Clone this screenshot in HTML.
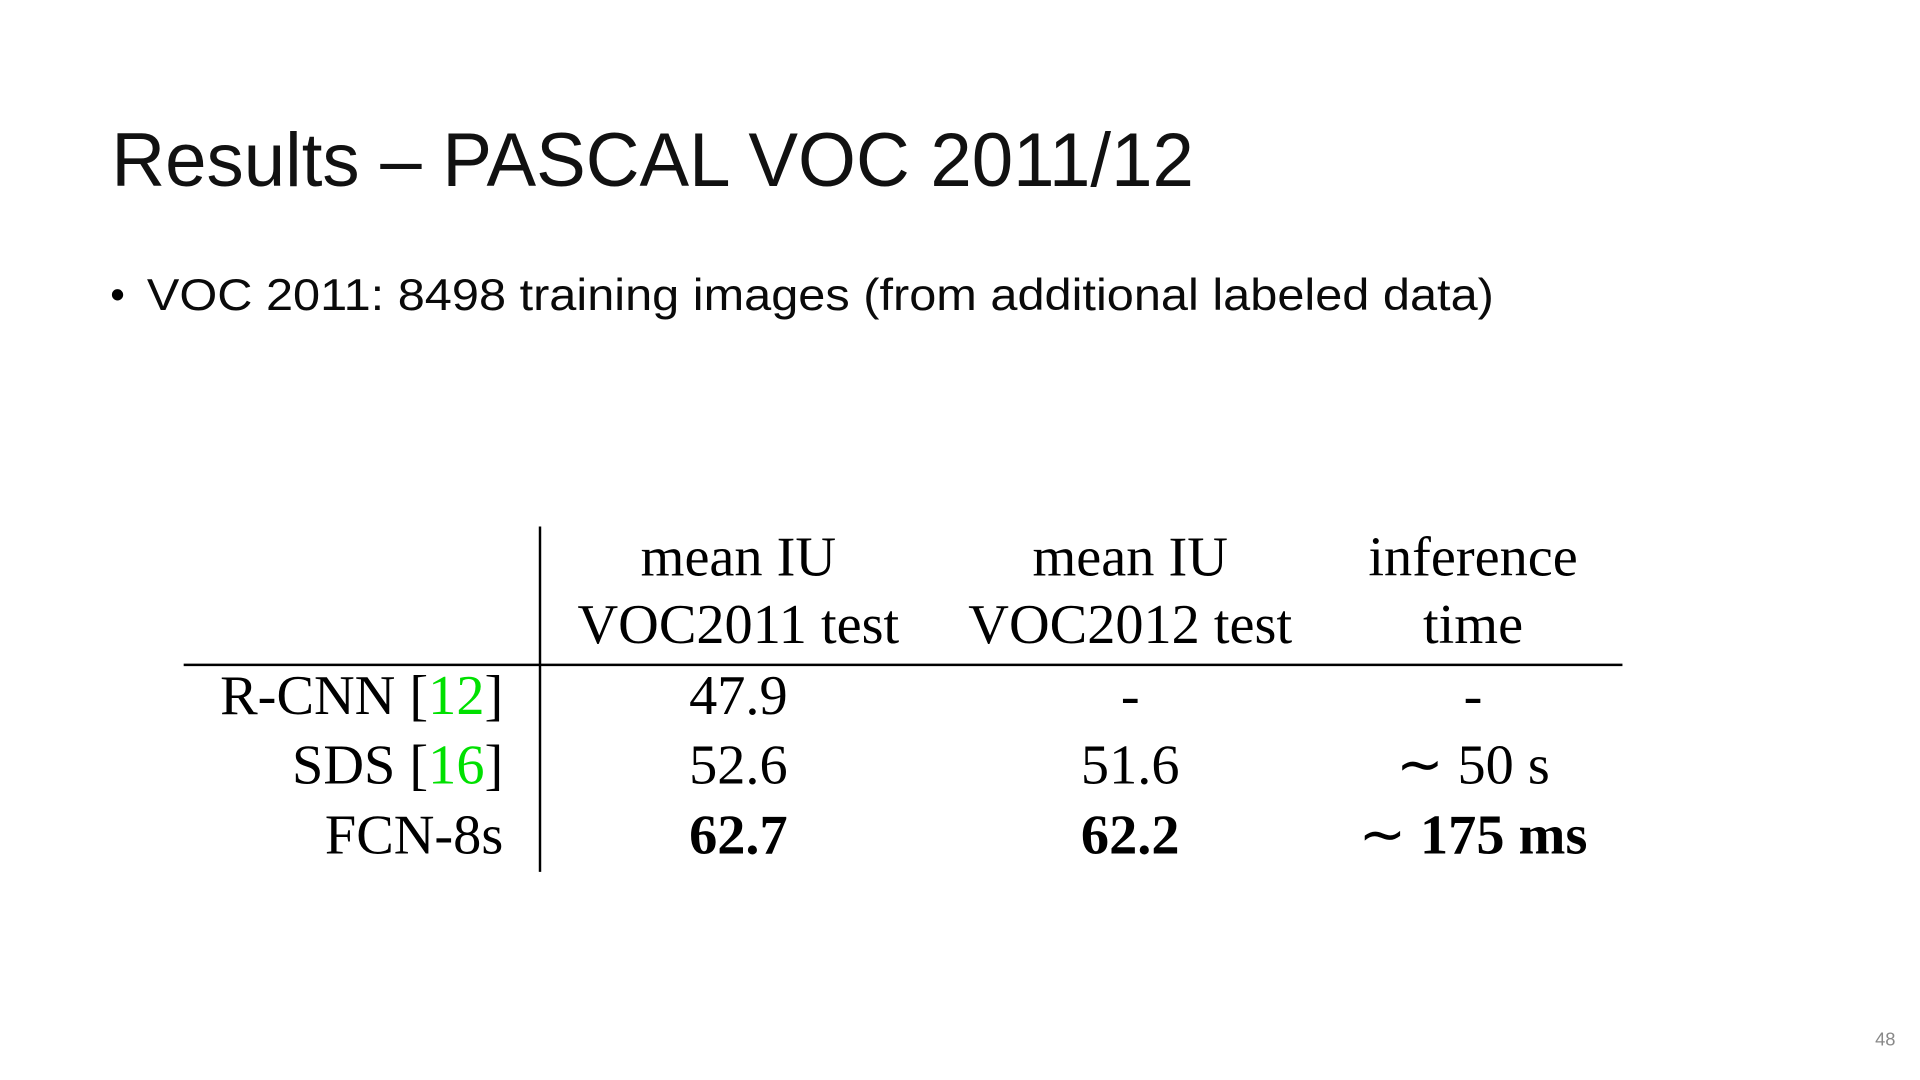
<!DOCTYPE html>
<html>
<head>
<meta charset="utf-8">
<style>
  html,body{margin:0;padding:0;background:#fff;}
  svg{display:block;}
  .sans{font-family:"Liberation Sans",sans-serif;}
  .serif{font-family:"Liberation Serif",serif;}
</style>
</head>
<body>
<svg width="1920" height="1080" viewBox="0 0 1568 882" xmlns="http://www.w3.org/2000/svg">
  <rect width="1568" height="882" fill="#fff"/>
  <text class="sans" x="91" y="152" font-size="62" fill="#111" textLength="884" lengthAdjust="spacingAndGlyphs">Results – PASCAL VOC 2011/12</text>
  <text class="sans" x="90" y="252" font-size="34" fill="#000">•</text>
  <text class="sans" x="120" y="253" font-size="36" fill="#0a0a0a" textLength="1100" lengthAdjust="spacingAndGlyphs">VOC 2011: 8498 training images (from additional labeled data)</text>

  <g class="serif" font-size="46" fill="#000">
    <line x1="441" y1="430" x2="441" y2="712" stroke="#000" stroke-width="2"/>
    <line x1="150" y1="543" x2="1325" y2="543" stroke="#000" stroke-width="2"/>

    <g text-anchor="middle">
      <text x="603" y="470">mean IU</text>
      <text x="603" y="525">VOC2011 test</text>
      <text x="923" y="470">mean IU</text>
      <text x="923" y="525">VOC2012 test</text>
      <text x="1203" y="470">inference</text>
      <text x="1203" y="525">time</text>
    </g>

    <g text-anchor="end">
      <text x="411" y="583">R-CNN [<tspan fill="#00e000">12</tspan>]</text>
      <text x="411" y="640">SDS [<tspan fill="#00e000">16</tspan>]</text>
      <text x="411" y="697">FCN-8s</text>
    </g>

    <g text-anchor="middle">
      <text x="603" y="583">47.9</text>
      <text x="923" y="583">-</text>
      <text x="1203" y="583">-</text>
      <text x="603" y="640">52.6</text>
      <text x="923" y="640">51.6</text>
      <text x="1203" y="640">∼ 50 s</text>
      <text x="603" y="697" font-weight="bold">62.7</text>
      <text x="923" y="697" font-weight="bold">62.2</text>
      <text x="1203" y="697">∼ <tspan font-weight="bold">175 ms</tspan></text>
    </g>
  </g>

  <text class="sans" x="1548" y="854" font-size="15" fill="#888" text-anchor="end">48</text>
</svg>
</body>
</html>
